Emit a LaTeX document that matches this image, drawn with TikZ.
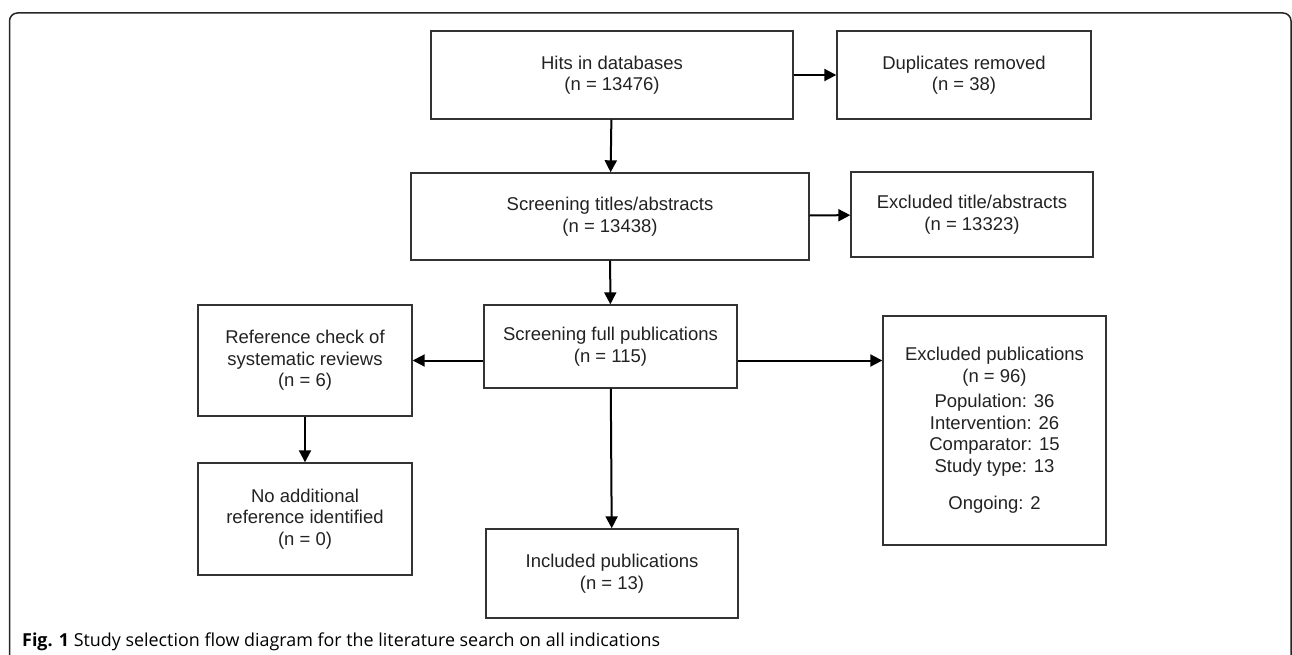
\documentclass[tikz,border=0pt]{standalone}
\usepackage{fontspec}
\setmainfont{Liberation Sans}
\newfontfamily\capfont{Open Sans}
\usetikzlibrary{arrows.meta,calc}
\definecolor{boxline}{RGB}{51,51,51}
\definecolor{boxtext}{RGB}{34,34,34}
\tikzset{
  stage/.style={draw=boxline,line width=1.4pt,align=center,inner sep=0pt,
    text=boxtext,font=\fontsize{18.5}{21.5}\selectfont},
  flow/.style={-{Triangle[length=12pt,width=12pt]},line width=2pt,black},
  frameline/.style={line width=1.5pt,rounded corners=8pt,black!85}
}

\begin{document}
\begin{tikzpicture}[x=1pt,y=-1pt]
  \useasboundingbox (0,0) rectangle (1292,655);
  \draw[frameline] (9.5,680) -- (9.5,13) -- (1291,13) -- (1291,680);
  \node[stage,minimum width=362pt,minimum height=88pt] (hits) at (612,75)
    {Hits in databases\\(n = 13476)};
  \node[stage,minimum width=254pt,minimum height=88pt] (dupl) at (964,75)
    {Duplicates removed\\(n = 38)};
  \node[stage,minimum width=398pt,minimum height=87pt] (titles) at (610,216.5)
    {Screening titles/abstracts\\(n = 13438)};
  \node[stage,minimum width=242pt,minimum height=85pt] (extitles) at (972,214.5)
    {Excluded title/abstracts\\(n = 13323)};
  \node[stage,minimum width=253pt,minimum height=83pt] (full) at (610.5,346.5)
    {Screening full publications\\(n = 115)};
  \node[stage,minimum width=214pt,minimum height=111pt] (refcheck) at (305,360.5)
    {Reference check of\\systematic reviews\\(n = 6)};
  \node[stage,minimum width=214pt,minimum height=112pt] (noref) at (305,519)
    {No additional\\reference identified\\(n = 0)};
  \node[stage,minimum width=252pt,minimum height=89pt] (included) at (612,573.5)
    {Included publications\\(n = 13)};
  \node[stage,minimum width=223pt,minimum height=229pt] (expubs) at (994.5,430.5)
    {Excluded publications\\(n = 96)\\[4pt]Population: 36\\Intervention: 26\\
     Comparator: 15\\Study type: 13\\[16pt]Ongoing: 2};
  \node[anchor=base west,inner sep=0pt,font=\capfont\fontsize{17.9}{20}\selectfont]
    (caption) at (22,646)
    {\textbf{Fig. 1} Study selection flow diagram for the literature search on all indications};
  % arrows
  \draw[flow] (hits) -- (titles);
  \draw[flow] (hits) -- (dupl);
  \draw[flow] (titles) -- (extitles);
  \draw[flow] (titles) -- (full);
  \draw[flow] (refcheck.east -| full.west) -- (refcheck.east);
  \draw[flow] (refcheck.east -| full.east) -- (refcheck.east -| expubs.west);
  \draw[flow] (refcheck) -- (noref);
  \draw[flow] (full) -- (included);
\end{tikzpicture}
\end{document}
